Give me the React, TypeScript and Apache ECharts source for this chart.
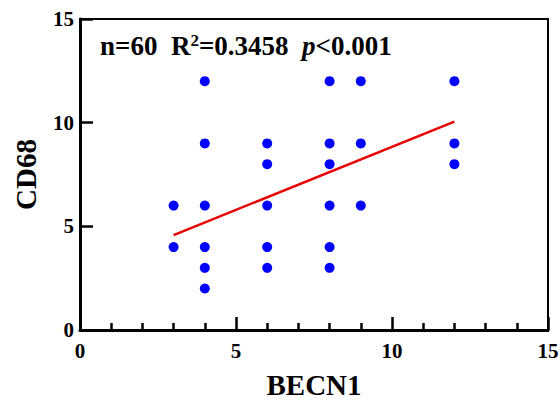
import React, { useEffect, useRef } from "react";
import * as echarts from "echarts";

const becn1 = [3, 3, 4, 4, 4, 4, 4, 4, 6, 6, 6, 6, 6, 8, 8, 8, 8, 8, 8, 9, 9, 9, 12, 12, 12];
const cd68 = [6, 4, 12, 9, 6, 4, 3, 2, 9, 8, 6, 4, 3, 12, 9, 8, 6, 4, 3, 12, 9, 6, 12, 9, 8];
const fitX = [3, 12];
const fitY = [4.58, 10.05];
const xName = "BECN1";
const yName = "CD68";

const FONT = "'Liberation Serif', 'Times New Roman', serif";

export default function App() {
  const ref = useRef<HTMLDivElement>(null);
  useEffect(() => {
    if (!ref.current) return;
    const chart = echarts.init(ref.current, undefined, { renderer: "svg" });
    chart.setOption({
      animation: false,
      title: {
        left: 100,
        top: 32,
        padding: 0,
        text: "{b|n=60  R}{s|2}{b|=0.3458  }{i|p}{b|<0.001}",
        textStyle: {
          rich: {
            b: { fontFamily: FONT, fontWeight: "bold", fontSize: 27, color: "#000" },
            i: { fontFamily: FONT, fontWeight: "bold", fontStyle: "italic", fontSize: 27, color: "#000" },
            s: { fontFamily: FONT, fontWeight: "bold", fontSize: 17, color: "#000", verticalAlign: "top", padding: [0, 0, 11, 0] },
          },
        },
      },
      grid: {
        left: 80,
        right: 12,
        top: 19,
        bottom: 70,
        show: true,
        borderColor: "#000",
        borderWidth: 2,
        containLabel: false,
        outerBoundsMode: "none",
      },
      xAxis: {
        type: "value",
        min: 0,
        max: 15,
        interval: 5,
        name: xName,
        nameLocation: "middle",
        nameGap: 40,
        nameTextStyle: { fontFamily: FONT, fontWeight: "bold", fontSize: 29, color: "#000" },
        axisLine: { show: true, lineStyle: { color: "#000", width: 3 } },
        axisTick: { show: true, inside: true, length: 13, lineStyle: { color: "#000", width: 2.5 } },
        minorTick: { show: true, splitNumber: 5, length: 7, lineStyle: { color: "#000", width: 2.5 } },
        splitLine: { show: false },
        axisLabel: { fontFamily: FONT, fontWeight: "bold", fontSize: 21, color: "#000", margin: 10 },
      },
      yAxis: {
        type: "value",
        min: 0,
        max: 15,
        interval: 5,
        name: yName,
        nameLocation: "middle",
        nameGap: 40,
        nameRotate: 90,
        nameTextStyle: { fontFamily: FONT, fontWeight: "bold", fontSize: 29, color: "#000" },
        axisLine: { show: true, lineStyle: { color: "#000", width: 3 } },
        axisTick: { show: true, inside: true, length: 13, lineStyle: { color: "#000", width: 2.5 } },
        splitLine: { show: false },
        axisLabel: { fontFamily: FONT, fontWeight: "bold", fontSize: 21, color: "#000", margin: 6 },
      },
      series: [
        {
          type: "scatter",
          data: becn1.map((x, i) => [x, cd68[i]]),
          symbol: "circle",
          symbolSize: 10,
          itemStyle: { color: "#0000ff", opacity: 1 },
          z: 3,
        },
        {
          type: "line",
          data: fitX.map((x, i) => [x, fitY[i]]),
          showSymbol: false,
          symbol: "none",
          lineStyle: { color: "#e60000", width: 2.5 },
          z: 4,
        },
      ],
    });
    return () => chart.dispose();
  }, []);
  return (
    <div
      ref={ref}
      style={{ position: "absolute", left: 0, top: 0, width: 560, height: 400 }}
    />
  );
}
